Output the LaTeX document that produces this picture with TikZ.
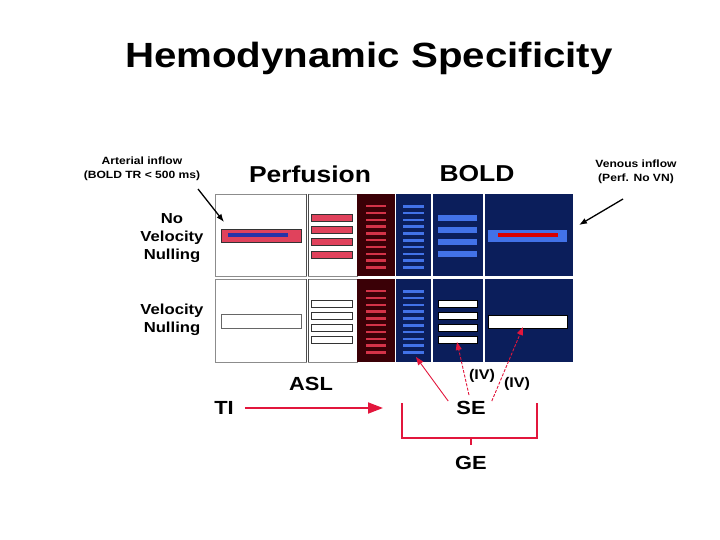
\documentclass[tikz,border=0pt]{standalone}
\usepackage{fontspec}
\setmainfont{Liberation Sans}[FakeStretch=1.15]
\usetikzlibrary{arrows.meta,positioning,calc}
\definecolor{navy}     {HTML}{0B1E5B}
\definecolor{bluebar}  {HTML}{4272E8}
\definecolor{maroon}   {HTML}{3A0006}
\definecolor{redline}  {HTML}{D33348}
\definecolor{pinkbar}  {HTML}{E0425C}
\definecolor{deepblue} {HTML}{2733A8}
\definecolor{arrowred} {HTML}{E2163C}
\definecolor{frame}    {HTML}{8C8C8C}
\tikzset{
  heading/.style={font=\bfseries\fontsize{23}{26}\selectfont,inner sep=0pt},
  rowlabel/.style={font=\bfseries\fontsize{14.5}{18}\selectfont,align=center,inner sep=0pt},
  keyword/.style={font=\bfseries\fontsize{19}{21}\selectfont,inner sep=0pt},
  note/.style={font=\bfseries\fontsize{10.5}{14}\selectfont,align=center,inner sep=0pt},
  thinred/.style={draw=arrowred,line width=0.9pt,-{Triangle[length=8pt,width=6pt]}},
}
\begin{document}
\begin{tikzpicture}[x=1pt,y=-1pt]
  \useasboundingbox (0,0) rectangle (720,540);
  \node[font=\bfseries\fontsize{35}{40}\selectfont,inner sep=0pt] (title) at (369,58) {Hemodynamic Specificity};

  \node[heading] (perf) at (310,174) {Perfusion};
  \node[heading] (bold) at (477,174) {BOLD};
  \node[rowlabel] (novn) at (172,238) {No\\Velocity\\Nulling};
  \node[rowlabel] (vn) at (172,320) {Velocity\\Nulling};

  \foreach \t/\b in {194/276,279/362}{
    \draw[frame,fill=white] (215,\t) rectangle (306,\b);
    \draw[frame,fill=white] (308,\t) rectangle (357,\b);
    \fill[maroon] (357,\t) rectangle (395,\b);
    \fill[navy] (396,\t) rectangle (431,\b);
    \fill[navy] (433,\t) rectangle (483,\b);
    \fill[navy] (485,\t) rectangle (573,\b);
    \foreach \k in {0,...,9}{
      \fill[redline] (366,{\t+11+\k*6.8}) rectangle +(20,2.3);
      \fill[bluebar] (403,{\t+11+\k*6.8}) rectangle +(21,2.6);
    }
  }
  \draw[black!70,line width=0.8pt] (306,194) -- (306,276) (308,194) -- (308,276)
    (306,279) -- (306,362) (308,279) -- (308,362);

  \draw[black!80,fill=pinkbar] (221,229) rectangle (301,242);
  \fill[deepblue] (228,233) rectangle (288,237);
  \fill[bluebar] (488,230) rectangle (567,242);
  \fill[red!85!black] (498,233) rectangle (558,237);
  \foreach \k in {0,...,3}{
    \draw[black!80,fill=pinkbar] (311,{214+\k*12.3}) rectangle +(41,7);
    \fill[bluebar] (438,{215+\k*12}) rectangle +(39,6);
    \draw[black!80,fill=white] (311,{300+\k*12}) rectangle +(41,7);
    \draw[black,fill=white] (438,{300+\k*12}) rectangle +(39,7);
  }
  \draw[black!60,fill=white] (221,314) rectangle (301,328);
  \draw[black,fill=white] (488,315) rectangle (567,328);

  \node[note] (arterial) at (142,169) {Arterial inflow\\(BOLD TR < 500 ms)};
  \node[note] (venous) at (636,172) {Venous inflow\\(Perf. No VN)};
  \coordinate (artTail) at (198,189);
  \coordinate (artHit) at (224,222);
  \coordinate (venTail) at (623,199);
  \coordinate (venHit) at (579,225);
  \draw[line width=1.3pt,-{Latex[length=8pt,width=6pt]}] (artTail) -- (artHit);
  \draw[line width=1.3pt,-{Latex[length=8pt,width=6pt]}] (venTail) -- (venHit);

  \node[keyword] (ti) at (224,408) {TI};
  \node[keyword] (asl) at (311,384) {ASL};
  \node[keyword] (se) at (471,408) {SE};
  \node[keyword] (ge) at (471,463) {GE};
  \node[font=\bfseries\fontsize{14}{16}\selectfont,inner sep=0pt] (iva) at (482,376) {(IV)};
  \node[font=\bfseries\fontsize{14}{16}\selectfont,inner sep=0pt] (ivb) at (517,384) {(IV)};

  \coordinate (aslTip) at (383,408);
  \draw[arrowred,line width=1.8pt,-{Triangle[length=15pt,width=11pt]}] ([xshift=11pt]ti.east) -- (aslTip);

  \coordinate (hitA) at (416,357);
  \coordinate (hitB) at (457,342);
  \coordinate (hitC) at (523,327);
  \draw[thinred] ([xshift=-8pt]se.north west) -- (hitA);
  \draw[thinred,dash pattern=on 3pt off 1.5pt] ([xshift=-2pt,yshift=6pt]se.north) -- (hitB);
  \draw[thinred,dash pattern=on 3pt off 1.5pt] ([xshift=6pt]se.north east) -- (hitC);

  \draw[arrowred,line width=2.6pt] (402,403) -- (402,438) -- (537,438) -- (537,403);
  \draw[arrowred,line width=2.6pt] ([yshift=18pt]ge.north) -- ([yshift=11pt]ge.north);
\end{tikzpicture}
\end{document}
